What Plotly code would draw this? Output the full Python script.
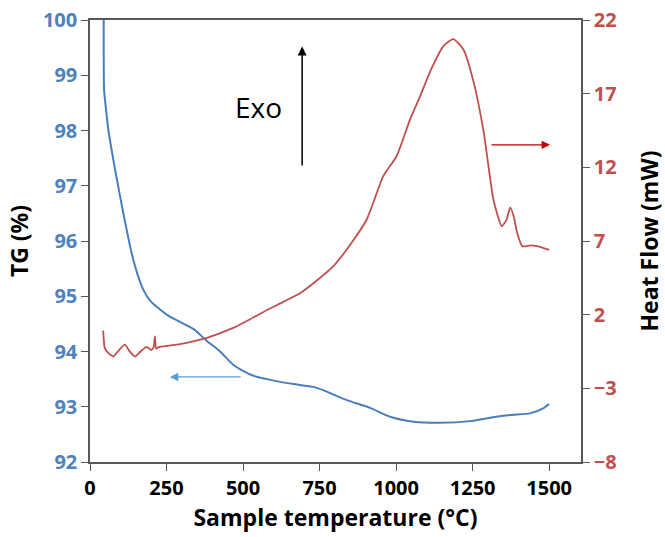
import plotly.graph_objects as go

# Thermogravimetric (TG) trace, left axis
tg_temp = [45, 46, 50, 60, 82, 109, 136, 155, 174, 195, 218, 261, 300, 340, 380, 425, 468,
           500, 534, 578, 621, 665, 730, 762, 839, 915, 980, 1057, 1144, 1242, 1307, 1373,
           1438, 1480, 1500]
tg_value = [100.6, 98.74, 98.5, 98.01, 97.29, 96.5, 95.78, 95.4, 95.12, 94.93, 94.81,
            94.63, 94.52, 94.4, 94.2, 94.0, 93.76, 93.65, 93.56, 93.5, 93.45, 93.41, 93.36,
            93.3, 93.12, 92.98, 92.82, 92.73, 92.71, 92.74, 92.8, 92.85, 92.88, 92.97, 93.05]

# Heat flow trace, right axis
hf_temp = [43, 44, 48, 60, 76, 95, 114, 130, 147, 165, 185, 200, 208, 212, 216, 225, 260,
           294, 340, 382, 425, 468, 520, 577, 630, 686, 740, 795, 850, 904, 958, 1002, 1046,
           1080, 1111, 1155, 1187, 1220, 1253, 1286, 1318, 1345, 1360, 1373, 1385, 1395,
           1412, 1440, 1460, 1500]
hf_value = [0.93, 0.6, -0.25, -0.6, -0.84, -0.4, -0.04, -0.5, -0.84, -0.5, -0.18, -0.4,
            -0.2, 0.52, -0.3, -0.2, -0.1, 0.0, 0.2, 0.43, 0.75, 1.1, 1.65, 2.3, 2.85, 3.45,
            4.3, 5.29, 6.75, 8.46, 11.4, 12.77, 15.27, 16.9, 18.5, 20.25, 20.7, 20.0, 17.8,
            14.4, 9.8, 8.0, 8.4, 9.28, 8.6, 7.6, 6.65, 6.7, 6.65, 6.4]

x_ticks = [0, 250, 500, 750, 1000, 1250, 1500]
tg_ticks = [92, 93, 94, 95, 96, 97, 98, 99, 100]
hf_ticks = [-8, -3, 2, 7, 12, 17, 22]

BLUE = "#4a7ebb"
RED = "#c0504d"
TG_LABEL = "#4f81bd"
AXIS = "#595959"
FONT = "Open Sans"

fig = go.Figure()
fig.add_trace(go.Scatter(x=tg_temp, y=tg_value, mode="lines", yaxis="y",
                         line=dict(color=BLUE, width=2, shape="spline", smoothing=0.6)))
fig.add_trace(go.Scatter(x=hf_temp, y=hf_value, mode="lines", yaxis="y2",
                         line=dict(color=RED, width=1.8, shape="spline", smoothing=0.5)))

tick_font = dict(size=20, family=FONT, weight="bold")
title_font = dict(size=23, family=FONT, weight="bold", color="black")

fig.update_layout(
    width=665, height=537,
    margin=dict(l=90, r=84, t=20, b=75),
    paper_bgcolor="white", plot_bgcolor="white",
    showlegend=False,
    font=dict(family=FONT, color="black"),
    xaxis=dict(range=[0, 1604], tickvals=x_ticks, showgrid=False, zeroline=False,
               showline=True, linecolor=AXIS, linewidth=1.5, mirror=True,
               ticks="outside", ticklen=7, tickcolor=AXIS, automargin=False,
               tickfont=dict(tick_font, color="black"),
               title=dict(text="Sample temperature (°C)", font=title_font, standoff=10)),
    yaxis=dict(range=[92, 100], tickvals=tg_ticks, showgrid=False, zeroline=False,
               showline=True, linecolor=AXIS, linewidth=1.5, automargin=False,
               ticks="outside", ticklen=7, tickcolor=AXIS,
               tickfont=dict(tick_font, color=TG_LABEL),
               title=dict(text="TG (%)", font=title_font, standoff=8)),
    yaxis2=dict(range=[-8, 22], tickvals=hf_ticks, overlaying="y", side="right",
                showgrid=False, zeroline=False, showline=True, linecolor=AXIS,
                linewidth=1.5, ticks="outside", ticklen=7, tickcolor=AXIS,
                automargin=False,
                tickfont=dict(tick_font, color=RED),
                title=dict(text="Heat Flow (mW)", font=title_font, standoff=26)),
)

# Exo direction marker
fig.add_annotation(x=693, y=99.52, ax=693, ay=97.34, xref="x", yref="y",
                   axref="x", ayref="y", text="", showarrow=True, arrowhead=2,
                   arrowsize=1.2, arrowwidth=1.5, arrowcolor="black")
fig.add_annotation(x=549, y=98.43, xref="x", yref="y", text="Exo", showarrow=False,
                   font=dict(size=28, family=FONT, color="black"))

# Axis pointers for each curve
fig.add_annotation(x=1503, y=97.74, ax=1307, ay=97.74, xref="x", yref="y",
                   axref="x", ayref="y", text="", showarrow=True, arrowhead=2,
                   arrowsize=1.3, arrowwidth=1.3, arrowcolor="#c00000")
fig.add_annotation(x=261, y=93.54, ax=497, ay=93.54, xref="x", yref="y",
                   axref="x", ayref="y", text="", showarrow=True, arrowhead=2,
                   arrowsize=1.3, arrowwidth=1.3, arrowcolor="#5b9bd5")

fig.write_html("out.html")
